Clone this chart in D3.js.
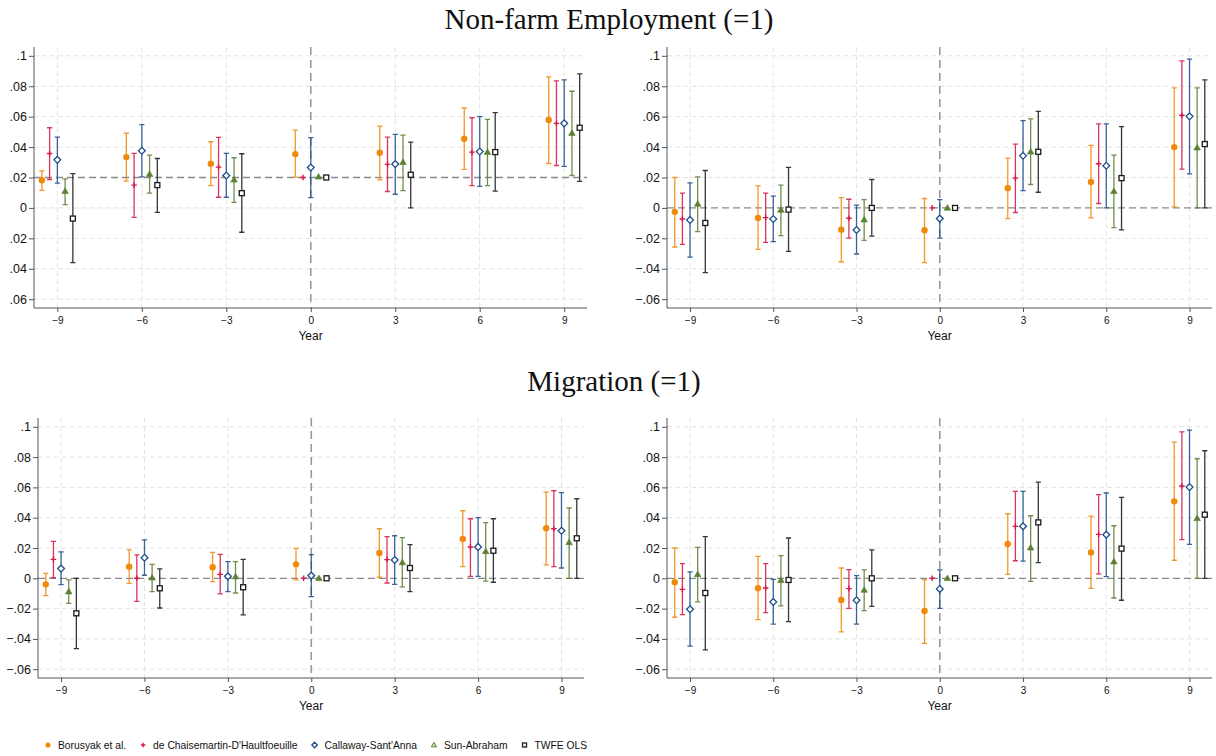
<!DOCTYPE html>
<html>
<head>
<meta charset="utf-8">
<script src="https://cdn.jsdelivr.net/npm/d3@7"></script>
<style>
  body { margin: 0; background: #fff; }
  svg { display: block; }
  text { font-family: "Liberation Sans", Arial, Helvetica, sans-serif; fill: #111; }
</style>
</head>
<body>
<div id="chart"></div>
<script>
// ---- data ----
var years = [-9, -6, -3, 0, 3, 6, 9];
var methods = ["Borusyak et al.", "de Chaisemartin-D'Haultfoeuille", "Callaway-Sant'Anna", "Sun-Abraham", "TWFE OLS"];
var yTicks = [-0.06, -0.04, -0.02, 0, 0.02, 0.04, 0.06, 0.08, 0.1];
var titles = ["Non-farm Employment (=1)", "Migration (=1)"];

// rows = methods, cols = years ; null = no interval drawn
var empLeftEst = [
  [.0182, .0334, .029, .0354, .0363, .0455, .0578],
  [.0358, .015, .0268, .02, .0286, .0367, .0556],
  [.0316, .0376, .0213, .0266, .0288, .0371, .0556],
  [.011, .0222, .0185, .0205, .0301, .0367, .0492],
  [-.007, .015, .0097, .02, .0218, .0367, .0527]];
var empLeftHi = [
  [.0244, .0492, .0435, .0512, .0538, .0657, .0862],
  [.0527, .0358, .0464, null, .0466, .0593, .0835],
  [.0466, .0547, .0358, .0462, .0484, .06, .0842],
  [.0191, .0347, .033, null, .0479, .0582, .0767],
  [.0226, .0325, .0356, null, .0433, .0626, .0881]];
var empLeftLo = [
  [.0116, .0176, .0147, .0202, .0185, .0253, .0292],
  [.0187, -.0062, .007, null, .0108, .0147, .0279],
  [.0163, .0204, .007, .0068, .009, .0141, .0273],
  [.0022, .0097, .0037, null, .0114, .0147, .0213],
  [-.036, -.0029, -.016, null, 0, .011, .0174]];

var empRightEst = [
  [-.0026, -.0066, -.0143, -.0147, .013, .0171, .04],
  [-.0073, -.0064, -.0068, 0, .0196, .029, .0609],
  [-.0079, -.0073, -.0145, -.007, .0343, .0277, .0602],
  [.0026, -.0013, -.0077, 0, .0369, .011, .0396],
  [-.0099, -.0011, 0, 0, .0369, .0196, .042]];
var empRightHi = [
  [.02, .0145, .0068, .0062, .0327, .0411, .0789],
  [.0097, .0097, .0057, null, .042, .0552, .0967],
  [.0165, .0077, .0018, .0055, .0574, .0552, .0978],
  [.0204, .015, .0055, null, .0585, .0347, .0789],
  [.0246, .0266, .0187, null, .0635, .0534, .0842]];
var empRightLo = [
  [-.0257, -.0273, -.0354, -.036, -.007, -.0066, .0007],
  [-.024, -.0226, -.0198, null, -.003, .0029, .0255],
  [-.0323, -.0222, -.0303, -.0198, .0114, 0, .0224],
  [-.0156, -.0182, -.0213, null, .0154, -.013, 0],
  [-.0426, -.0286, -.0185, null, .0103, -.0145, 0]];

var migLeftEst = [
  [-.004, .0077, .0073, .0092, .0167, .0259, .033],
  [.0125, 0, .0026, 0, .0123, .0207, .0327],
  [.0064, .0136, .0013, .0018, .0121, .0207, .0314],
  [-.0088, .0004, .0011, 0, .0105, .0178, .0237],
  [-.0231, -.0066, -.0059, 0, .0068, .0182, .0264]];
var migLeftHi = [
  [.0033, .0187, .0171, .0198, .0327, .0446, .0569],
  [.0244, .0154, .0158, null, .0275, .0393, .0578],
  [.0174, .0253, .011, .0156, .0281, .04, .0565],
  [-.0011, .0092, .011, null, .0268, .0367, .0464],
  [0, .0062, .0125, null, .0222, .0393, .0525]];
var migLeftLo = [
  [-.0114, -.0033, -.0022, -.0011, .0007, .0077, .0088],
  [.0004, -.0152, -.0103, null, -.0031, .0013, .0077],
  [-.0042, .002, -.0088, -.0121, -.004, .0013, .0068],
  [-.0165, -.0088, -.0097, null, -.0057, -.0018, 0],
  [-.0464, -.0196, -.0242, null, -.0088, -.0026, 0]];

var migRightEst = [
  [-.0026, -.0066, -.0143, -.0215, .0226, .0171, .0508],
  [-.0073, -.0064, -.0068, 0, .0343, .029, .0609],
  [-.0204, -.0156, -.0145, -.007, .0343, .0288, .0602],
  [.0026, -.0013, -.0077, 0, .0202, .011, .0396],
  [-.0097, -.0011, 0, 0, .0369, .0196, .042]];
var migRightHi = [
  [.02, .0145, .0068, -.0009, .0426, .0411, .0899],
  [.0097, .0097, .0057, null, .0574, .0552, .0967],
  [.0042, -.0007, .0018, .0055, .0574, .0563, .0978],
  [.0204, .015, .0055, null, .0413, .0347, .0789],
  [.0275, .0266, .0187, null, .0635, .0534, .0842]];
var migRightLo = [
  [-.0257, -.0273, -.0354, -.0429, .0026, -.0066, .0119],
  [-.024, -.0226, -.0198, null, .0116, .0029, .0255],
  [-.0448, -.0303, -.0303, -.0198, .0114, .0011, .0224],
  [-.0156, -.0182, -.0213, null, -.002, -.013, 0],
  [-.0473, -.0286, -.0185, null, .0103, -.0145, 0]];

// ---- styling / layout ----
var width = 1216, height = 756;
var colors = ["#ef8a0c", "#d6194b", "#1d4f8b", "#5c8033", "#1a1a1a"];
var offsets = [-0.55, -0.275, 0, 0.275, 0.55];
var xDomain = [-9.83, 9.81];
var yDomain = [-0.0658, 0.1058];

var panels = [
  { est: empLeftEst, hi: empLeftHi, lo: empLeftLo, ref: 0.02, noMinus: true,
    x0: 34, x1: 587, y0: 47, y1: 308 },
  { est: empRightEst, hi: empRightHi, lo: empRightLo, ref: 0,
    x0: 667, x1: 1212, y0: 47, y1: 308 },
  { est: migLeftEst, hi: migLeftHi, lo: migLeftLo, ref: 0,
    x0: 38, x1: 584, y0: 418, y1: 678 },
  { est: migRightEst, hi: migRightHi, lo: migRightLo, ref: 0,
    x0: 667, x1: 1212, y0: 418, y1: 678 }
];

var svg = d3.select("#chart").append("svg")
  .attr("width", width)
  .attr("height", height);

function tickText(d, noMinus) {
  if (d === 0) return "0";
  var s = d3.format(".2~f")(noMinus ? Math.abs(d) : d);
  return s.replace("0.", ".");
}

// marker shapes
function drawMarker(g, k, cx, cy, s) {
  s = s || 1;
  if (k == 0) {
    g.append("circle").attr("cx", cx).attr("cy", cy).attr("r", 3.2 * s)
      .attr("fill", colors[0]);
  } else if (k == 1) {
    var a = 2.8 * s;
    g.append("path")
      .attr("d", "M" + (cx - a) + "," + cy + "H" + (cx + a) + "M" + cx + "," + (cy - a) + "V" + (cy + a))
      .attr("stroke", colors[1]).attr("stroke-width", 1.4).attr("fill", "none");
  } else if (k == 2) {
    var r = 3.4 * s;
    g.append("path")
      .attr("d", "M" + cx + "," + (cy - r) + "L" + (cx + r) + "," + cy + "L" + cx + "," + (cy + r) + "L" + (cx - r) + "," + cy + "Z")
      .attr("stroke", colors[2]).attr("stroke-width", 1.3).attr("fill", "#fff");
  } else if (k == 3) {
    var t = 3.3 * s;
    g.append("path")
      .attr("d", "M" + cx + "," + (cy - t) + "L" + (cx + t) + "," + (cy + t * 0.7) + "L" + (cx - t) + "," + (cy + t * 0.7) + "Z")
      .attr("fill", s < 1 ? "#cfe0b8" : colors[3])
      .attr("stroke", colors[3]).attr("stroke-width", s < 1 ? 1 : 0.6);
  } else {
    var h = 2.5 * s;
    g.append("rect").attr("x", cx - h).attr("y", cy - h)
      .attr("width", 2 * h).attr("height", 2 * h)
      .attr("stroke", colors[4]).attr("stroke-width", 1.3).attr("fill", "#fff");
  }
}

panels.forEach(function (p) {
  var x = d3.scaleLinear().domain(xDomain).range([p.x0, p.x1]);
  var y = d3.scaleLinear().domain(yDomain).range([p.y1, p.y0]);
  var g = svg.append("g");

  // grid
  g.selectAll(".hgrid").data(yTicks.filter(function (d) { return d !== p.ref; }))
    .enter().append("line")
    .attr("x1", p.x0).attr("x2", p.x1)
    .attr("y1", function (d) { return y(d); }).attr("y2", function (d) { return y(d); })
    .attr("stroke", "#e4e4e4").attr("stroke-width", 1).attr("stroke-dasharray", "5,3");
  g.selectAll(".vgrid").data(years.filter(function (d) { return d !== 0; }))
    .enter().append("line")
    .attr("x1", function (d) { return x(d); }).attr("x2", function (d) { return x(d); })
    .attr("y1", p.y0).attr("y2", p.y1)
    .attr("stroke", "#e4e4e4").attr("stroke-width", 1).attr("stroke-dasharray", "5,3");

  // reference lines
  g.append("line")
    .attr("x1", p.x0).attr("x2", p.x1)
    .attr("y1", y(p.ref)).attr("y2", y(p.ref))
    .attr("stroke", "#8a8a8a").attr("stroke-width", 1.3).attr("stroke-dasharray", "7,4");
  g.append("line")
    .attr("x1", x(0)).attr("x2", x(0))
    .attr("y1", p.y0).attr("y2", p.y1)
    .attr("stroke", "#999").attr("stroke-width", 1.6).attr("stroke-dasharray", "8,5");

  // axes
  var yAxis = d3.axisLeft(y).tickValues(yTicks).tickSize(5)
    .tickFormat(function (d) { return tickText(d, p.noMinus); });
  var ya = g.append("g").attr("transform", "translate(" + p.x0 + ",0)").call(yAxis);
  ya.select(".domain").attr("d", "M0," + p.y0 + "V" + p.y1).attr("stroke", "#555");
  ya.selectAll(".tick line").attr("stroke", "#555");
  ya.selectAll(".tick text").attr("font-size", "12.5px").attr("x", -7)
    .style("font-family", "'Liberation Sans', Arial, sans-serif").attr("fill", "#111");

  var xAxis = d3.axisBottom(x).tickValues(years).tickSize(4);
  var xa = g.append("g").attr("transform", "translate(0," + p.y1 + ")").call(xAxis);
  xa.select(".domain").attr("d", "M" + p.x0 + ",0H" + p.x1).attr("stroke", "#555");
  xa.selectAll(".tick line").attr("stroke", "#555");
  xa.selectAll(".tick text").attr("font-size", "10px").attr("y", 9)
    .style("font-family", "'Liberation Sans', Arial, sans-serif").attr("fill", "#111");

  g.append("text")
    .attr("x", (p.x0 + p.x1) / 2).attr("y", p.y1 + 32)
    .attr("text-anchor", "middle").attr("font-size", "12px")
    .text("Year");

  // series
  methods.forEach(function (m, k) {
    var sg = g.append("g");
    years.forEach(function (yr, j) {
      var cx = x(yr + offsets[k]);
      var hi = p.hi[k][j], lo = p.lo[k][j];
      if (hi != null && lo != null) {
        sg.append("path")
          .attr("d", "M" + cx + "," + y(hi) + "V" + y(lo) +
            "M" + (cx - 2.6) + "," + y(hi) + "H" + (cx + 2.6) +
            "M" + (cx - 2.6) + "," + y(lo) + "H" + (cx + 2.6))
          .attr("stroke", colors[k]).attr("stroke-width", 1.3)
          .attr("fill", "none").attr("opacity", 0.88);
      }
      drawMarker(sg, k, cx, y(p.est[k][j]));
    });
  });
});

// titles
svg.append("text").attr("x", 609).attr("y", 29)
  .attr("text-anchor", "middle").attr("font-size", "29px")
  .style("font-family", "'Liberation Serif', 'Times New Roman', serif")
  .text(titles[0]);
svg.append("text").attr("x", 614).attr("y", 391)
  .attr("text-anchor", "middle").attr("font-size", "29px")
  .style("font-family", "'Liberation Serif', 'Times New Roman', serif")
  .text(titles[1]);

// legend
var lx = 48, ly = 745;
var legend = svg.append("g");
methods.forEach(function (m, k) {
  drawMarker(legend, k, lx, ly, 0.8);
  var t = legend.append("text").attr("x", lx + 10).attr("y", ly + 3.5)
    .attr("font-size", "10.3px").text(m);
  lx = lx + 10 + t.node().getComputedTextLength() + 17;
});
</script>
</body>
</html>
